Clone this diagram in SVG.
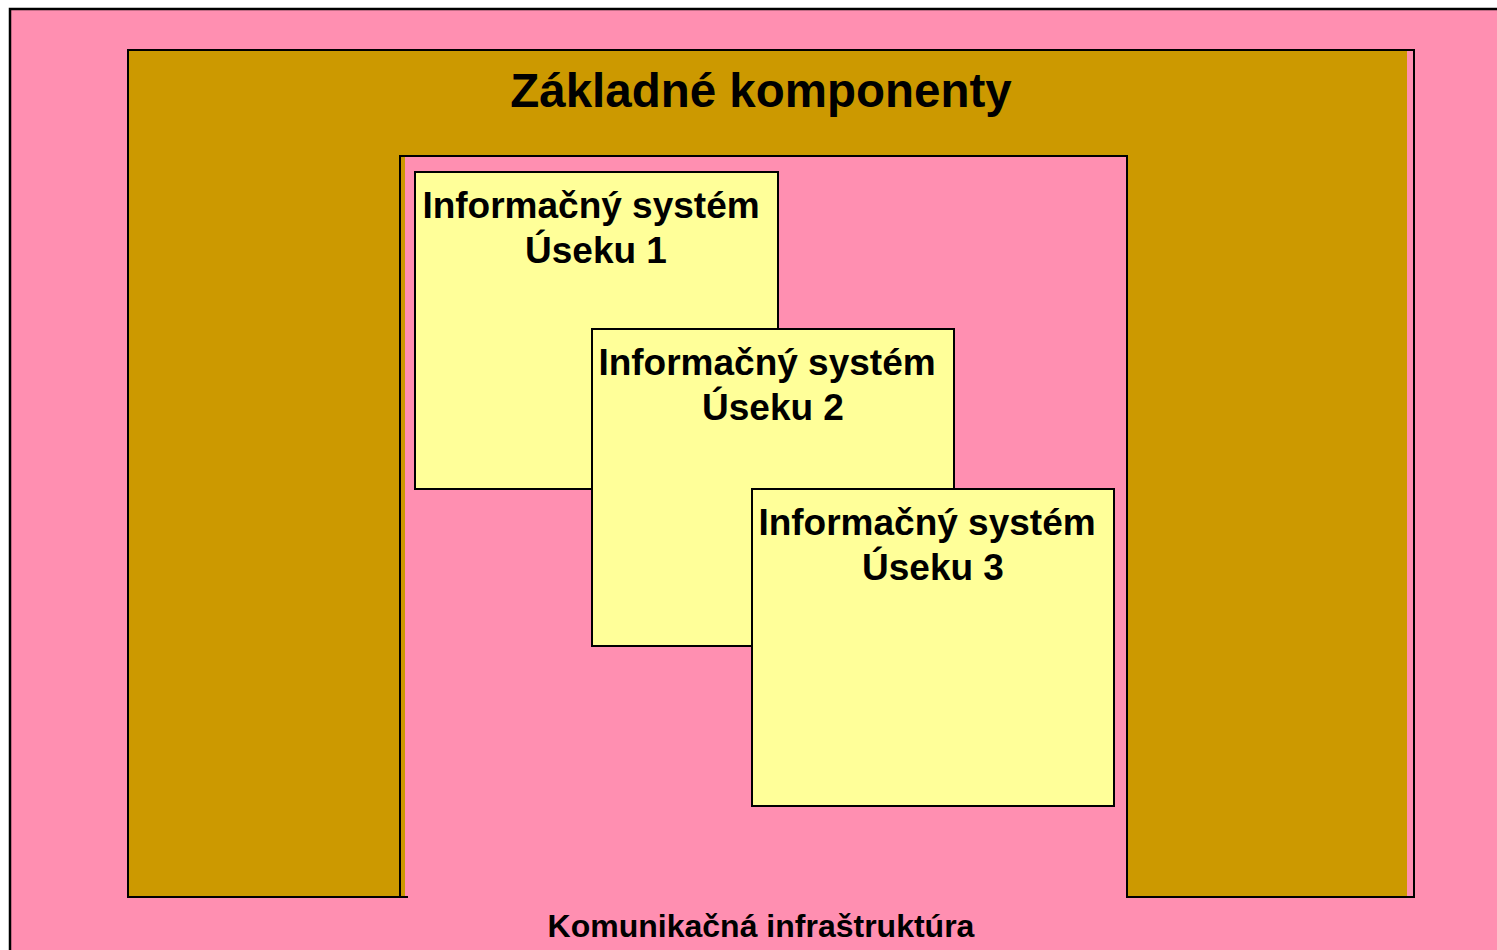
<svg xmlns="http://www.w3.org/2000/svg" width="1497" height="950" viewBox="0 0 1497 950">
<style>
text{font-family:"Liberation Sans",Arial,sans-serif;font-weight:bold;fill:#000}
.box{fill:#FFFF99;stroke:#000;stroke-width:2}
.lbl{font-size:37px;text-anchor:middle}
</style>
<rect width="1497" height="950" fill="#fff"/>
<g id="background">
<rect x="10" y="9" width="1500" height="960" fill="#FF8FB1" stroke="#000" stroke-width="2.5"/>
</g>
<g id="zakladne-komponenty">
<path d="M128,50 H1407 V897 H1127 V156 H405 V897 H128 Z" fill="#CC9900"/>
<path d="M128,50 H1414 V897 H1127 V156 H400 V897 H128 Z" fill="none" stroke="#000" stroke-width="2"/>
<line x1="400" y1="897" x2="408" y2="897" stroke="#000" stroke-width="2"/>
<text x="761" y="107" font-size="47.5" text-anchor="middle">Základné komponenty</text>
</g>
<g id="is-1">
<rect class="box" x="415" y="172" width="363" height="317"/>
<text class="lbl" x="591" y="218">Informačný systém</text>
<text class="lbl" x="596" y="263">Úseku 1</text>
</g>
<g id="is-2">
<rect class="box" x="592" y="329" width="362" height="317"/>
<text class="lbl" x="767" y="375">Informačný systém</text>
<text class="lbl" x="773" y="420">Úseku 2</text>
</g>
<g id="is-3">
<rect class="box" x="752" y="489" width="362" height="317"/>
<text class="lbl" x="927" y="535">Informačný systém</text>
<text class="lbl" x="933" y="580">Úseku 3</text>
</g>
<g id="komunikacna-infrastruktura">
<text x="761" y="937" font-size="32" text-anchor="middle">Komunikačná infraštruktúra</text>
</g>
<g id="connectors"/>
</svg>
